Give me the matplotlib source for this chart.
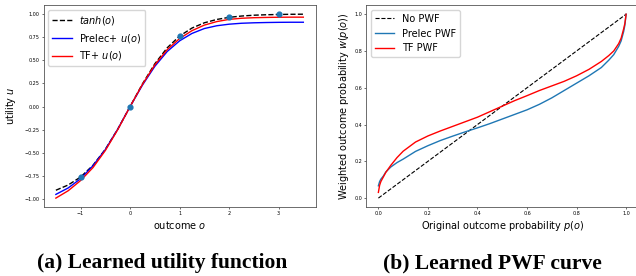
import numpy as np
import matplotlib
matplotlib.use("Agg")
import matplotlib.pyplot as plt

# (a) utility curves
outcome = [-1.5, -1.25, -1.0, -0.75, -0.5, -0.25, 0.0, 0.25, 0.5, 0.75, 1.0,
           1.25, 1.5, 1.75, 2.0, 2.25, 2.5, 2.75, 3.0, 3.25, 3.5]
u_tanh = [-0.905, -0.848, -0.762, -0.635, -0.462, -0.245, 0.0, 0.245, 0.462, 0.635, 0.762,
          0.848, 0.905, 0.941, 0.964, 0.978, 0.987, 0.992, 0.995, 0.997, 0.998]
u_prelec = [-0.95, -0.88, -0.78, -0.64, -0.465, -0.245, 0.0, 0.232, 0.435, 0.595, 0.71,
            0.79, 0.843, 0.873, 0.89, 0.9, 0.905, 0.908, 0.91, 0.911, 0.911]
u_tf = [-0.99, -0.91, -0.80, -0.66, -0.475, -0.25, 0.0, 0.24, 0.45, 0.615, 0.735,
        0.82, 0.88, 0.918, 0.942, 0.954, 0.96, 0.963, 0.965, 0.966, 0.966]
sample_o = [-1, 0, 1, 2, 3]
sample_u = [-0.762, 0.0, 0.762, 0.964, 0.995]

# (b) probability weighting curves
prob = [0.0, 0.005, 0.01, 0.02, 0.03, 0.05, 0.075, 0.1, 0.15, 0.2, 0.25, 0.3, 0.35, 0.4,
        0.45, 0.5, 0.55, 0.6, 0.65, 0.7, 0.75, 0.8, 0.85, 0.9, 0.93, 0.95, 0.97, 0.98,
        0.99, 0.995, 1.0]
w_prelec = [0.067, 0.09, 0.103, 0.12, 0.142, 0.169, 0.193, 0.212, 0.254, 0.285, 0.313,
            0.337, 0.36, 0.382, 0.405, 0.43, 0.455, 0.48, 0.51, 0.545, 0.585, 0.625,
            0.665, 0.71, 0.75, 0.78, 0.825, 0.855, 0.905, 0.94, 1.0]
w_tf = [0.031, 0.07, 0.09, 0.115, 0.14, 0.178, 0.22, 0.255, 0.305, 0.338, 0.365, 0.39,
        0.415, 0.44, 0.47, 0.5, 0.53, 0.557, 0.585, 0.61, 0.635, 0.665, 0.7, 0.743,
        0.775, 0.8, 0.84, 0.87, 0.92, 0.95, 1.0]
diag = [0.0, 1.0]

fig = plt.figure(figsize=(6.36, 2.76), dpi=100)
W, H = 636, 276
ax1 = fig.add_axes([43.5 / W, (H - 207.3) / H, 272.2 / W, 202.3 / H])
ax2 = fig.add_axes([366.0 / W, (H - 207.3) / H, 272.5 / W, 202.3 / H])

ax1.plot(outcome, u_tanh, "k--", lw=1.0, label="$tanh(o)$")
ax1.plot(outcome, u_prelec, color="blue", lw=1.0, label="Prelec+ $u(o)$")
ax1.plot(outcome, u_tf, color="red", lw=1.0, label="TF+ $u(o)$")
ax1.scatter(sample_o, sample_u, s=12, color="C0", zorder=5)
ax1.set_yticks(np.arange(-1.0, 1.01, 0.25))
ax1.set_xlabel("outcome $o$", fontsize=7)
ax1.set_ylabel("utility $u$", fontsize=7)
ax1.xaxis.set_label_coords(0.5, -0.06)
ax1.yaxis.set_label_coords(-0.094, 0.5)
ax1.legend(loc="upper left", fontsize=7)

ax2.plot(diag, diag, "k--", lw=0.8, label="No PWF")
ax2.plot(prob, w_prelec, color="C0", lw=1.0, label="Prelec PWF")
ax2.plot(prob, w_tf, color="red", lw=1.0, label="TF PWF")
ax2.set_xlabel("Original outcome probability $p(o)$", fontsize=7)
ax2.set_ylabel("Weighted outcome probability $w(p(o))$", fontsize=7)
ax2.xaxis.set_label_coords(0.5, -0.06)
ax2.yaxis.set_label_coords(-0.055, 0.5)
ax2.legend(loc="upper left", fontsize=7)

for ax in (ax1, ax2):
    ax.tick_params(labelsize=3.5, length=1.5, width=0.4, pad=1.4)
    for sp in ax.spines.values():
        sp.set_linewidth(0.6)
        sp.set_color("#555555")

fig.text(162 / W, 1 - 263 / H, "(a) Learned utility function", ha="center", va="center",
         fontsize=15.5, fontweight="bold", family="Liberation Serif")
fig.text(492 / W, 1 - 263 / H, "(b) Learned PWF curve", ha="center", va="center",
         fontsize=15.5, fontweight="bold", family="Liberation Serif")

fig.savefig("out.png", dpi=100)
